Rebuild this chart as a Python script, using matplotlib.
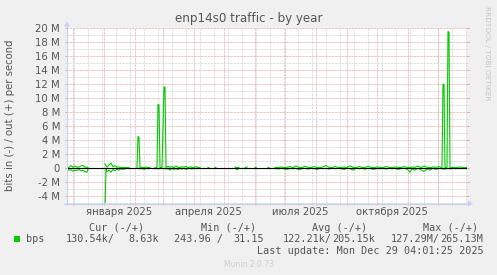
import numpy as np
import matplotlib
matplotlib.use("Agg")
import matplotlib.pyplot as plt
import matplotlib.dates as mdates
from matplotlib.patches import Polygon, Rectangle
from matplotlib.lines import Line2D
from datetime import datetime, timedelta

nan = np.nan

# days since graph start, traffic out (+) and in (-) in Mbit/s
days = [0, 2, 4, 6, 8, 10, 12, 14, 16, 18, 20, 21, 22,
        38, 39, 40, 42, 44, 46, 48, 50, 52, 54, 56, 58, 60, 62, 63,
        70, 71, 72, 73, 75, 77, 79, 81, 83, 85,
        88, 90, 91, 92, 93, 95, 97, 98, 99, 101, 103, 105, 107, 109, 111, 113,
        115, 117, 119, 121, 123, 125, 127, 129, 131, 133, 134,
        141, 142, 143, 148, 149, 150, 168, 170, 172, 174, 178, 180, 182,
        188, 189, 190, 201, 202, 203,
        208, 211, 214, 217, 220, 223, 226, 229, 232, 235, 238, 241, 244, 247,
        250, 253, 256, 259, 262, 265, 268, 271, 274, 277, 280, 283, 286, 289,
        292, 295, 298, 301, 304, 307, 310, 313, 316, 319, 322, 325, 328, 331,
        334, 337, 340, 343, 345, 348, 351, 354, 357, 360, 363, 366, 369, 372,
        375, 376, 377, 378, 380, 381, 382, 383, 386, 389, 392, 395, 398, 400]
out_mbps = [.05, .10, .35, .10, .30, .10, .15, .30, .35, .10, .15, .05, nan,
            .60, .30, .10, .45, .70, .20, .35, .10, .15, .05, .10, .05, .10, .05, nan,
            .05, 4.5, 4.4, .05, .10, .05, .15, .05, .10, nan,
            .05, .10, 9.1, 9.0, .05, .10, 11.6, 11.5, .05, .25, .10, .20, .05, .30, .10, .05,
            .20, .10, .25, .05, .15, .10, .05, .20, .05, .10, nan,
            .10, .05, nan, .10, .05, nan, .15, .05, .10, nan, .05, .15, nan,
            .05, .10, nan, .10, .05, nan,
            .10, .05, .15, .05, .10, .20, .05, .30, .10, .05, .25, .10, .05, .20,
            .10, .05, .15, .35, .10, .05, .20, .10, .05, .15, .05, .30, .10, .05,
            .20, .10, .05, .25, .10, .05, .15, .10, .05, .20, .10, .05, .15, .10,
            .05, .20, .10, .05, .15, .10, .25, .05, .30, .10, .05, .15, .10, .20,
            .05, 12.0, 11.9, .05, .10, 19.5, 19.4, .05, .10, .05, .15, .10, .05, .10]
in_mbps = [-.15, -.30, -.25, -.45, -.30, -.35, -.20, -.40, -.30, -.55, -.60, -.20, nan,
           -5.6, -.20, -.50, -.30, -.60, -.20, -.40, -.15, -.30, -.10, -.20, -.10, -.05, -.10, nan,
           -.05, -.10, -.05, -.15, -.05, -.20, -.05, -.10, -.05, nan,
           -.10, -.05, -.15, -.05, -.10, -.05, -.10, -.05, -.15, -.10, -.30, -.05, -.20, -.10, -.25, -.05,
           -.15, -.05, -.20, -.10, -.05, -.15, -.05, -.10, -.05, -.10, nan,
           -.05, -.10, nan, -.05, -.10, nan, -.05, -.25, -.05, nan, -.10, -.05, nan,
           -.10, -.05, nan, -.05, -.10, nan,
           -.05, -.15, -.05, -.10, -.20, -.05, -.10, -.05, -.25, -.10, -.05, -.15, -.05, -.10,
           -.20, -.05, -.10, -.05, -.15, -.05, -.10, -.05, -.10, -.20, -.05, -.10, -.30, -.05,
           -.10, -.05, -.15, -.05, -.10, -.20, -.05, -.10, -.05, -.15, -.05, -.10, -.05, -.20,
           -.10, -.05, -.15, -.60, -.10, -.30, -.05, -.25, -.50, -.10, -.30, -.05, -.20, -.05,
           -.10, -.15, -.10, -.20, -.05, -.10, -.05, -.15, -.05, -.10, -.05, -.10, -.05, -.10]

month_labels = ["января 2025", "апреля 2025", "июля 2025", "октября 2025"]
label_months = [(2025, 1), (2025, 4), (2025, 7), (2025, 10)]
y_ticks = [-4, -2, 0, 2, 4, 6, 8, 10, 12, 14, 16, 18, 20]

W, H = 497, 275
BG = "#F0F0F0"
FONT = "#555555"
GREEN = "#00CC00"
AXIS = "#C8D0F4"
MGRID = "#E8A8A8"
GRID = "#D2D2D2"

def fx(px):
    return px / W

def fy(py):
    return (H - py) / H

start = datetime(2024, 11, 25, 6, 0)
end = start + timedelta(days=400)
t0 = mdates.date2num(start)
t1 = mdates.date2num(end)
x = t0 + np.array(days, dtype=float)

fig = plt.figure(figsize=(W / 100, H / 100), dpi=100, facecolor=BG)
ax = fig.add_axes([fx(67), fy(203), 400 / W, 175 / H])
ax.set_facecolor("white")
for s in ax.spines.values():
    s.set_visible(False)
ax.set_xlim(t0, t1)
ax.set_ylim(-5, 20)
ax.set_xticks([])
ax.set_yticks([])

dot = (0, (0.72, 0.72))
# minor grid: every 2 weeks, major: month starts
d = datetime(2024, 12, 2)
while d < end:
    ax.vlines(mdates.date2num(d), -5.3, 20, color=GRID, lw=0.72, ls=dot, clip_on=False, zorder=1)
    d += timedelta(days=14)
m = datetime(2024, 12, 1)
while m < end:
    ax.vlines(mdates.date2num(m), -5.3, 20, color=MGRID, lw=0.72, ls=dot, clip_on=False, zorder=1)
    m = datetime(m.year + (m.month // 12), m.month % 12 + 1, 1)

for v in range(-5, 21):
    col = MGRID if v % 2 == 0 else GRID
    ax.hlines(v, t0 - 2, t1 + 2, color=col, lw=0.72, ls=dot, clip_on=False, zorder=1)
for v in y_ticks:
    ax.hlines(v, t0 - 2, t0, color=MGRID, lw=0.72, clip_on=False, zorder=1)
    ax.hlines(v, t1, t1 + 2, color=MGRID, lw=0.72, clip_on=False, zorder=1)
    lab = "0" if v == 0 else f"{v} M"
    fig.text(fx(60), fy(169 - 7 * v), lab, ha="right", va="center", fontsize=7.3, color=FONT)

# data
ax.plot(x, out_mbps, color=GREEN, lw=0.8, zorder=3)
ax.plot(x, in_mbps, color=GREEN, lw=0.8, zorder=3)
ax.axhline(0, color="black", lw=0.8, zorder=4)

# month labels centred in the month
for lab, (yy, mm) in zip(month_labels, label_months):
    a = mdates.date2num(datetime(yy, mm, 1))
    b = mdates.date2num(datetime(yy, mm + 1, 1))
    ax.text((a + b) / 2, -5.55, lab, ha="center", va="top", fontsize=7.3,
            color=FONT, clip_on=False)

# axes with arrows
fig.add_artist(Line2D([fx(67), fx(67)], [fy(205), fy(24)], color=AXIS, lw=0.8))
fig.add_artist(Line2D([fx(64), fx(470)], [fy(203.5), fy(203.5)], color=AXIS, lw=0.8))
fig.add_artist(Polygon([[fx(64), fy(26.5)], [fx(70), fy(26.5)], [fx(67), fy(21.5)]],
                       closed=True, color=AXIS, lw=0))
fig.add_artist(Polygon([[fx(468), fy(200.5)], [fx(468), fy(206.5)], [fx(473), fy(203.5)]],
                       closed=True, color=AXIS, lw=0))

# titles
fig.text(0.5, fy(18.5), "enp14s0 traffic - by year", ha="center", va="center",
         fontsize=8.6, color=FONT)
fig.text(fx(10), fy(115.5), "bits in (-) / out (+) per second", rotation=90,
         ha="center", va="center", fontsize=7.3, color=FONT)
fig.text(fx(487.5), fy(53), "RRDTOOL / TOBI OETIKER", rotation=270,
         ha="center", va="center", fontsize=5.3, color="#C4C4C4")

# legend
mono = "DejaVu Sans Mono"
fs = 7.3
fig.add_artist(Rectangle((fx(14), fy(242)), 6 / W, 6 / H, color=GREEN, lw=0))
for txt, px in [("Cur (-/+)", 89), ("Min (-/+)", 201), ("Avg (-/+)", 312), ("Max (-/+)", 423)]:
    fig.text(fx(px), fy(227.7), txt, ha="left", va="center", fontsize=fs, family=mono, color=FONT)
for txt, px in [("bps", 26), ("130.54k/", 66), ("8.63k", 128), ("243.96 /", 174),
                ("31.15", 233.5), ("122.21k/", 283), ("205.15k", 332.5), ("127.29M/", 391),
                ("265.13M", 440)]:
    fig.text(fx(px), fy(239.3), txt, ha="left", va="center", fontsize=fs, family=mono, color=FONT)
fig.text(fx(484), fy(250.7), "Last update: Mon Dec 29 04:01:25 2025", ha="right",
         va="center", fontsize=fs, family=mono, color=FONT)
fig.text(0.5, fy(264.5), "Munin 2.0.73", ha="center", va="center", fontsize=5.5, color="#CCCCCC")

fig.savefig("out.png", dpi=100, facecolor=BG)
